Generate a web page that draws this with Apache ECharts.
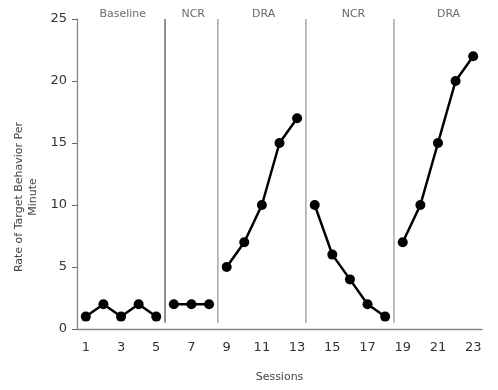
<!DOCTYPE html>
<html><head><meta charset="utf-8">
<script src="https://cdn.jsdelivr.net/npm/echarts@6/dist/echarts.min.js"></script>
<style>html,body{margin:0;padding:0;background:#fff}#c{width:498px;height:390px}</style>
</head><body><div id="c"></div>
<script>
var sessions = ['1','2','3','4','5','6','7','8','9','10','11','12','13','14','15','16','17','18','19','20','21','22','23'];
var baseline = [1, 2, 1, 2, 1];
var ncr1 = [2, 2, 2];
var dra1 = [5, 7, 10, 15, 17];
var ncr2 = [10, 6, 4, 2, 1];
var dra2 = [7, 10, 15, 20, 22];
var phaseNames = ['Baseline', 'NCR', 'DRA', 'NCR', 'DRA'];
var phaseLabelX = [3.1, 7.1, 11.1, 16.2, 21.6];
var phaseChanges = [5.5, 8.5, 13.5, 18.5];
var phaseLineColors = ['#555', '#999', '#999', '#999'];
var yTicks = [0, 5, 10, 15, 20, 25];

var phases = [baseline, ncr1, dra1, ncr2, dra2];
var series = [];
var start = 0;
phases.forEach(function (vals) {
  var d = vals.map(function (v, i) { return [sessions[start + i], v]; });
  start += vals.length;
  series.push({
    type: 'line', data: d, xAxisIndex: 0, yAxisIndex: 0,
    symbol: 'circle', symbolSize: 10,
    lineStyle: { color: '#000', width: 2.5 },
    itemStyle: { color: '#000' },
    z: 5, animation: false
  });
});
phaseChanges.forEach(function (x, i) {
  series.push({
    type: 'line', xAxisIndex: 1, yAxisIndex: 0,
    data: [[x, 0.5], [x, yTicks[yTicks.length - 1]]],
    symbol: 'none', silent: true,
    lineStyle: { color: phaseLineColors[i], width: 1.3 },
    animation: false, z: 2
  });
});
series.push({
  type: 'scatter', xAxisIndex: 1, yAxisIndex: 0, symbolSize: 0, clip: false,
  data: phaseLabelX.map(function (x, i) { return { value: [x, yTicks[yTicks.length - 1]], name: phaseNames[i] }; }),
  label: { show: true, position: 'top', distance: -1, formatter: '{b}', color: '#444', fontSize: 11, fontFamily: 'DejaVu Sans' },
  animation: false, silent: true
});

var chart = echarts.init(document.getElementById('c'), null, { renderer: 'canvas' });
chart.setOption({
  animation: false,
  grid: { left: 77, right: 16, top: 19, bottom: 61 },
  xAxis: [{
    type: 'category', data: sessions, boundaryGap: true,
    name: 'Sessions', nameLocation: 'middle', nameGap: 43,
    nameTextStyle: { color: '#444', fontSize: 11, fontFamily: 'DejaVu Sans' },
    axisLine: { lineStyle: { color: '#888', width: 1.3 } },
    axisTick: { interval: 0, length: 5, lineStyle: { color: '#666' } },
    axisLabel: { interval: 1, margin: 12, color: '#333', fontSize: 13, fontFamily: 'DejaVu Sans' },
    splitLine: { show: false }
  }, {
    type: 'value', min: 0.5, max: 23.5, show: false
  }],
  yAxis: {
    type: 'value', min: 0, max: 25, interval: 5,
    axisLine: { show: true, lineStyle: { color: '#888', width: 1.3 } },
    axisTick: { show: true, length: 5, lineStyle: { color: '#666' } },
    axisLabel: { margin: 10, color: '#333', fontSize: 13, fontFamily: 'DejaVu Sans' },
    splitLine: { show: false }
  },
  graphic: [{
    type: 'text', x: 26, y: 197, rotation: Math.PI / 2,
    style: { text: 'Rate of Target Behavior Per\nMinute', fill: '#444', fontSize: 11, fontFamily: 'DejaVu Sans', align: 'center', verticalAlign: 'middle', lineHeight: 14 }
  }],
  series: series
});
</script></body></html>
